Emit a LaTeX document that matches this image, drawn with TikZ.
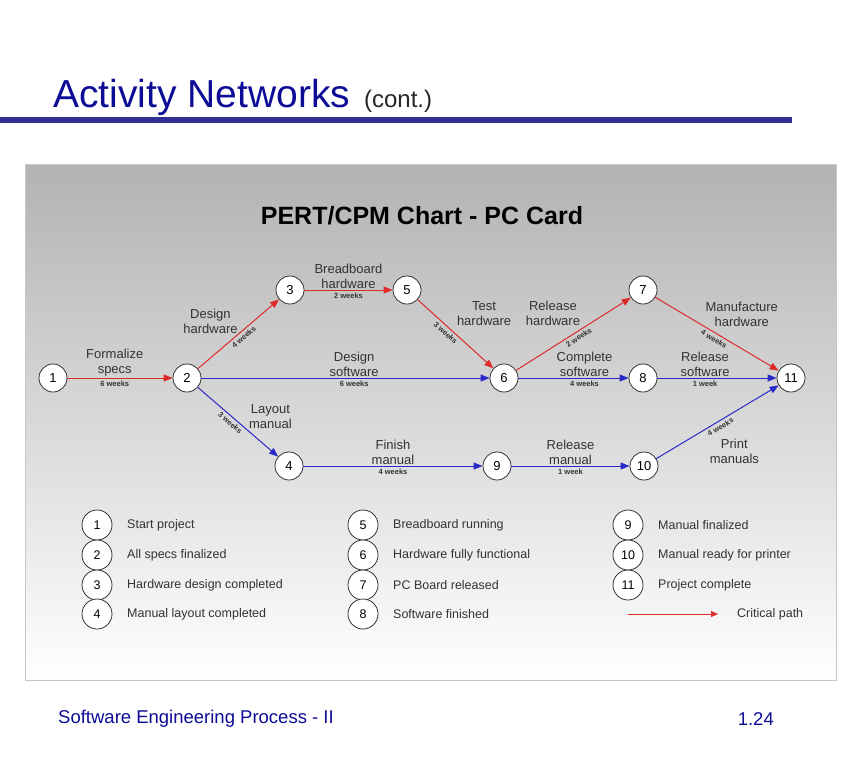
\documentclass[tikz,border=0pt]{standalone}
\usepackage{fontspec}
\setmainfont{Liberation Sans}
\usetikzlibrary{arrows.meta}
\definecolor{pertink}{HTML}{333333}
\definecolor{pertred}{HTML}{DD2A2A}
\definecolor{pertblue}{HTML}{2A2AC8}
\definecolor{slidenavy}{HTML}{0C0C96}
\definecolor{slidebar}{HTML}{2E3192}
\newcommand\pertfont[2]{\fontsize{#1}{#2}\selectfont}

\begin{document}
\begin{tikzpicture}[x=1pt,y=-1pt,line cap=round,line join=round,
  event/.style={circle,draw=pertink,fill=white,line width=.8pt,minimum size=28pt,inner sep=0pt,font=\pertfont{13}{15}},
  keyev/.style={event,minimum size=30pt,font=\pertfont{12.5}{15}},
  crit/.style={draw=pertred,line width=1pt,-{Triangle[length=9pt,width=7pt]}},
  norm/.style={draw=pertblue,line width=1pt,-{Triangle[length=9pt,width=7pt]}},
  act/.style={align=center,text=pertink,inner sep=1pt,font=\pertfont{13}{15}},
  dur/.style={sloped,below,inner sep=2.5pt,text=pertink,font=\pertfont{7.5}{8}\bfseries},
  keytext/.style={anchor=west,text=pertink,inner sep=0pt,font=\pertfont{12.5}{15}}]
\path[use as bounding box] (0,0) rectangle (864,757);
\fill[white] (0,0) rectangle (864,757);

% slide head and foot
\node[anchor=base west,inner sep=0pt,text=slidenavy,font=\pertfont{39}{40}] (slidetitle) at (53,108)
  {Activity Networks\hspace{14pt}\textcolor{black!85}{\pertfont{24}{24}(cont.)}};
\fill[slidebar] (0,117) rectangle (792,123);
\node[anchor=west,inner sep=0pt,text=slidenavy,font=\pertfont{18.5}{18}] (footleft) at (58,719) {Software Engineering Process - II};
\node[anchor=east,inner sep=0pt,text=slidenavy,font=\pertfont{18.5}{18}] (footright) at (774,719) {1.24};

% chart panel
\shade[top color=black!30,bottom color=white] (25,164) rectangle (836,680);
\draw[black!22,line width=1pt] (25,164) rectangle (836,680);
\node[font=\pertfont{25}{26}\bfseries,text=black] (charttitle) at (422,216) {PERT/CPM Chart - PC Card};

% events
\node[event] (e1) at (53,378) {1};
\node[event] (e2) at (187,378) {2};
\node[event] (e3) at (290,290) {3};
\node[event] (e5) at (407,290) {5};
\node[event] (e6) at (504,378) {6};
\node[event] (e7) at (643,290) {7};
\node[event] (e8) at (643,378) {8};
\node[event] (e11) at (791,378) {11};
\node[event] (e4) at (289,466) {4};
\node[event] (e9) at (497,466) {9};
\node[event] (e10) at (644,466) {10};

% activities: critical path
\draw[crit] (e1) -- node[act,above,pos=.45] (a12) {Formalize\\specs} node[dur,pos=.45] (d12) {6 weeks} (e2);
\draw[crit] (e2) -- node[act,above left,pos=.47,xshift=3pt,yshift=1pt] (a23) {Design\\hardware} node[dur,pos=.52] (d23) {4 weeks} (e3);
\draw[crit] (e3) -- node[act,above] (a35) {Breadboard\\hardware} node[dur] (d35) {2 weeks} (e5);
\draw[crit] (e5) -- node[act,above right,pos=.5,yshift=7pt] (a56) {Test\\hardware} node[dur,pos=.42] (d56) {3 weeks} (e6);
\draw[crit] (e6) -- node[act,above left,pos=.57,yshift=2pt] (a67) {Release\\hardware} node[dur,pos=.52] (d67) {2 weeks} (e7);
\draw[crit] (e7) -- node[act,above right,pos=.42,xshift=-3pt] (a711) {Manufacture\\hardware} node[dur,pos=.5] (d711) {4 weeks} (e11);

% activities: other paths
\draw[norm] (e2) -- node[act,above,pos=.53] (a26) {Design\\software} node[dur,pos=.53] (d26) {6 weeks} (e6);
\draw[norm] (e2) -- node[act,above right,pos=.62] (a24) {Layout\\manual} node[dur,pos=.45] (d24) {3 weeks} (e4);
\draw[norm] (e6) -- node[act,above,pos=.6] (a68) {Complete\\software} node[dur,pos=.6] (d68) {4 weeks} (e8);
\draw[norm] (e8) -- node[act,above,pos=.4] (a811) {Release\\software} node[dur,pos=.4] (d811) {1 week} (e11);
\draw[norm] (e4) -- node[act,above] (a49) {Finish\\manual} node[dur] (d49) {4 weeks} (e9);
\draw[norm] (e9) -- node[act,above] (a910) {Release\\manual} node[dur] (d910) {1 week} (e10);
\draw[norm] (e10) -- node[act,anchor=north west,pos=.4,xshift=3pt,yshift=-8pt] (a1011) {Print\\manuals} node[dur,pos=.5] (d1011) {4 weeks} (e11);

% key
\foreach \n/\x/\y/\t in {1/97/525/Start project,2/97/555/All specs finalized,
    3/97/585/Hardware design completed,4/97/614/Manual layout completed,
    5/363/525/Breadboard running,6/363/555/Hardware fully functional,
    7/363/585/PC Board released,8/363/614/Software finished,
    9/628/525/Manual finalized,10/628/555/Manual ready for printer,
    11/628/585/Project complete}{
  \node[keyev] (key\n) at (\x,\y) {\n};
  \node[keytext] (keytxt\n) at (\x+30,\y) {\t};
}
\coordinate (cpstart) at (628,614);
\coordinate (cpend) at (718,614);
\draw[crit,-{Triangle[length=7pt,width=6pt]}] (cpstart) -- (cpend);
\node[keytext] (cptxt) at (737,614) {Critical path};
\end{tikzpicture}
\end{document}
